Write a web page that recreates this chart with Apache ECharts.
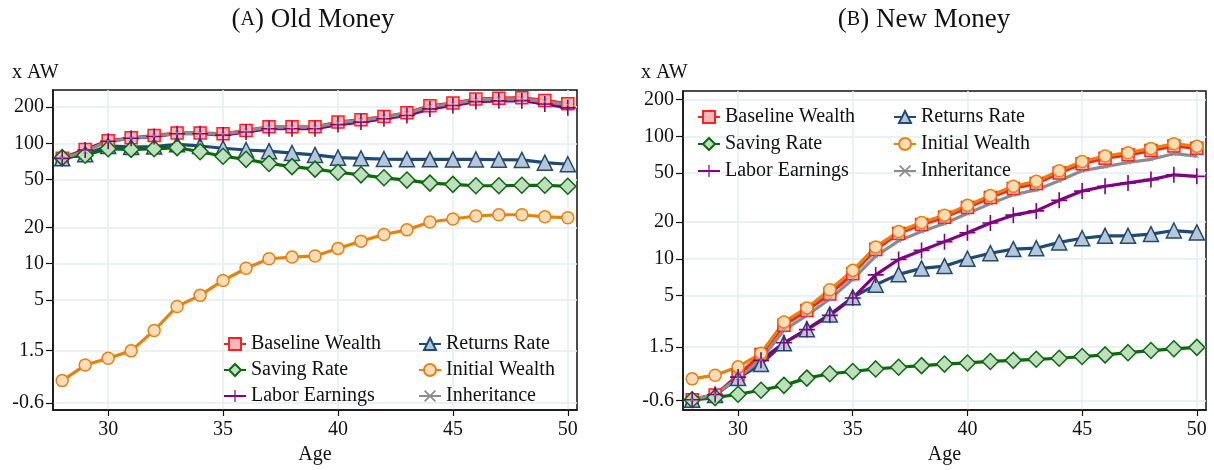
<!DOCTYPE html>
<html>
<head>
<meta charset="utf-8">
<script src="https://cdn.jsdelivr.net/npm/echarts@6/dist/echarts.min.js"></script>
<style>
  html, body { margin: 0; background: #fff; }
  #chart { width: 1214px; height: 470px; }
</style>
</head>
<body>
<div id="chart"></div>
<script>
// ages on the x axis
const ages = [28, 29, 30, 31, 32, 33, 34, 35, 36, 37, 38, 39, 40, 41, 42, 43, 44, 45, 46, 47, 48, 49, 50];

// (A) Old Money, in x AW
const oldBaseline = [75, 89, 105, 111, 116, 122, 122, 120, 128, 137, 137, 137, 150, 157, 167, 179, 205, 216, 233, 237, 239, 227, 213];
const oldReturns  = [75, 81, 95, 93, 94, 98, 95, 91, 88, 86, 83, 80, 76, 75, 74, 73.6, 73.6, 73.5, 73.5, 73, 72.8, 69, 67];
const oldSaving   = [76, 79.5, 90, 89, 90, 92, 85, 78, 73.6, 68, 64, 61, 57.5, 54.7, 51.7, 49.5, 46.7, 45.6, 44.4, 44.4, 44.8, 44.8, 44];
const oldInitial  = [1.07, 1.44, 1.64, 1.89, 2.79, 4.42, 5.46, 7.26, 9.16, 11.0, 11.35, 11.6, 13.4, 15.4, 17.5, 19.1, 22.2, 23.5, 24.9, 25.5, 25.5, 24.5, 24.1];
const oldLabor    = [75, 88, 104, 110, 114, 120, 120, 117, 124, 132, 132, 132, 143, 150, 160, 170, 193, 206, 222, 225, 226, 212, 197];
const oldInherit  = [75, 86, 104, 110, 115, 121, 121, 119, 127, 136, 136, 136, 148, 155, 165, 177, 202, 213, 229, 233, 234, 222, 209];

// (B) New Money, in x AW
const newBaseline = [0.705, 0.77, 1.13, 1.65, 2.86, 3.78, 5.15, 7.55, 11.9, 16.1, 19.0, 21.8, 26.2, 31.6, 37.5, 41.2, 50.2, 59.7, 66.3, 70.6, 76.4, 83.4, 79.7];
const newReturns  = [0.705, 0.77, 1.06, 1.38, 2.04, 2.66, 3.51, 4.84, 6.13, 7.46, 8.34, 8.71, 10.0, 11.1, 12.0, 12.2, 13.6, 14.7, 15.4, 15.4, 15.9, 17.0, 16.4];
const newSaving   = [0.705, 0.735, 0.783, 0.843, 0.925, 1.06, 1.15, 1.2, 1.26, 1.3, 1.34, 1.38, 1.41, 1.45, 1.48, 1.51, 1.54, 1.59, 1.64, 1.71, 1.78, 1.84, 1.89];
const newInitial  = [1.045, 1.12, 1.31, 1.69, 3.05, 3.97, 5.58, 8.04, 12.5, 16.7, 19.8, 22.7, 27.3, 32.9, 39.1, 42.9, 52.3, 62.2, 69.1, 73.5, 79.6, 86.9, 83.0];
const newLabor    = [0.705, 0.78, 1.08, 1.48, 2.06, 2.64, 3.45, 4.78, 7.38, 9.86, 11.7, 13.8, 16.3, 19.6, 22.7, 24.6, 30.0, 35.7, 39.1, 41.6, 44.3, 48.5, 47.1];
const newInherit  = [0.705, 0.78, 1.06, 1.50, 2.61, 3.45, 4.69, 6.79, 10.5, 14.0, 16.7, 19.4, 23.4, 28.2, 33.3, 36.5, 43.4, 52.3, 56.6, 61.1, 64.9, 72.1, 69.0];

// axis ticks (y axis is logarithmic, labels as printed)
const xTicks = [30, 35, 40, 45, 50];
const yTickValues = [0.695, 1.905, 5, 10, 20, 50, 100, 200];
const yTickLabels = ['-0.6', '1.5', '5', '10', '20', '50', '100', '200'];

const FONT = '"Liberation Serif", "Times New Roman", serif';
const log = v => Math.log10(v);
const yTicksLog = yTickValues.map(log);

const styles = {
  'Baseline Wealth': { line: '#FF1F1F', symbol: 'rect', size: 12, fill: '#F9B8B8', border: '#FF1F1F' },
  'Returns Rate':    { line: '#1F4A73', symbol: 'triangle', size: 15, fill: '#B7C7D9', border: '#1F4A73' },
  'Saving Rate':     { line: '#0B6B0B', symbol: 'diamond', size: 16, fill: '#BFDDBF', border: '#0B6B0B' },
  'Initial Wealth':  { line: '#E8820E', symbol: 'circle', size: 12, fill: '#FBDCB8', border: '#E8820E' },
  'Labor Earnings':  { line: '#800080', symbol: 'path://M9,0h2v9h9v2h-9v9h-2v-9h-9v-2h9z', size: 16, fill: '#800080', border: 'transparent' },
  'Inheritance':     { line: '#8C8C8C', symbol: 'path://M0,1l1,-1l4,4l4,-4l1,1l-4,4l4,4l-1,1l-4,-4l-4,4l-1,-1l4,-4z', size: 5, fill: '#8C8C8C', border: 'transparent' }
};

function makeSeries(name, values, idx) {
  const s = styles[name];
  return {
    name: name,
    type: 'line',
    xAxisIndex: idx,
    yAxisIndex: idx,
    data: ages.map((a, i) => [a, log(values[i])]),
    symbol: s.symbol,
    symbolSize: s.size,
    showAllSymbol: true,
    lineStyle: { color: s.line, width: 3.2 },
    itemStyle: { color: s.fill, borderColor: s.border, borderWidth: 1.5 },
    emphasis: { disabled: true },
    animation: false
  };
}

function makeX(idx) {
  return {
    gridIndex: idx, type: 'value', min: 27.6, max: 50.4,
    name: 'Age', nameLocation: 'middle', nameGap: 35,
    nameTextStyle: { fontFamily: FONT, fontSize: 20, color: '#111' },
    axisLine: { show: true, onZero: false, lineStyle: { color: '#111', width: 1.5 } },
    axisTick: { show: true, customValues: xTicks, length: 6, lineStyle: { color: '#111', width: 1.2 } },
    axisLabel: { customValues: xTicks, fontFamily: FONT, fontSize: 20, color: '#111', margin: 10 },
    splitLine: { show: true, lineStyle: { color: '#E4EEF0', width: 1.5 } }
  };
}

function makeY(idx, lo, hi) {
  return {
    gridIndex: idx, type: 'value', min: log(lo), max: log(hi),
    axisLine: { show: true, onZero: false, lineStyle: { color: '#111', width: 1.5 } },
    axisTick: { show: true, customValues: yTicksLog, length: 7, lineStyle: { color: '#111', width: 1.2 } },
    axisLabel: {
      customValues: yTicksLog, fontFamily: FONT, fontSize: 20, color: '#111', margin: 9,
      formatter: v => {
        let best = 0;
        yTicksLog.forEach((t, i) => { if (Math.abs(t - v) < Math.abs(yTicksLog[best] - v)) best = i; });
        return yTickLabels[best];
      }
    },
    splitLine: { show: true, lineStyle: { color: '#E4EEF0', width: 1.5 } }
  };
}

function makeLegend(left, top, names, gap) {
  return {
    left: left, top: top, orient: 'vertical', data: names,
    itemWidth: 22, itemHeight: 15, itemGap: gap,
    selectedMode: false,
    textStyle: { fontFamily: FONT, fontSize: 20, color: '#111', lineHeight: 20 }
  };
}

const col1 = ['Baseline Wealth', 'Saving Rate', 'Labor Earnings'];
const col2 = ['Returns Rate', 'Initial Wealth', 'Inheritance'];

const chart = echarts.init(document.getElementById('chart'), null, { renderer: 'canvas' });

const option = {
  backgroundColor: '#fff',
  animation: false,
  title: [
    { text: '({sc|A}) Old Money', left: 308, top: 1, textAlign: 'center',
      textStyle: { fontFamily: FONT, fontSize: 27, fontWeight: 'normal', color: '#111',
        rich: { sc: { fontFamily: FONT, fontSize: 20, color: '#111' } } } },
    { text: '({sc|B}) New Money', left: 919, top: 1, textAlign: 'center',
      textStyle: { fontFamily: FONT, fontSize: 27, fontWeight: 'normal', color: '#111',
        rich: { sc: { fontFamily: FONT, fontSize: 20, color: '#111' } } } },
    { text: 'x AW', left: 7, top: 58, textStyle: { fontFamily: FONT, fontSize: 20, fontWeight: 'normal', color: '#111' } },
    { text: 'x AW', left: 636, top: 58, textStyle: { fontFamily: FONT, fontSize: 20, fontWeight: 'normal', color: '#111' } }
  ],
  grid: [
    { left: 53, top: 90, width: 524, height: 323, show: true, borderColor: '#111', borderWidth: 1.5, backgroundColor: 'transparent' },
    { left: 683, top: 91, width: 523, height: 323, show: true, borderColor: '#111', borderWidth: 1.5, backgroundColor: 'transparent' }
  ],
  legend: [
    makeLegend(218, 329, col1, 6),
    makeLegend(413, 329, col2, 6),
    makeLegend(692, 102, col1, 7),
    makeLegend(888, 102, col2, 7)
  ],
  xAxis: [makeX(0), makeX(1)],
  yAxis: [makeY(0, 0.61, 277), makeY(1, 0.582, 234.4)],
  series: [
    makeSeries('Baseline Wealth', oldBaseline, 0),
    makeSeries('Returns Rate', oldReturns, 0),
    makeSeries('Saving Rate', oldSaving, 0),
    makeSeries('Initial Wealth', oldInitial, 0),
    makeSeries('Labor Earnings', oldLabor, 0),
    makeSeries('Inheritance', oldInherit, 0),
    makeSeries('Baseline Wealth', newBaseline, 1),
    makeSeries('Returns Rate', newReturns, 1),
    makeSeries('Saving Rate', newSaving, 1),
    makeSeries('Initial Wealth', newInitial, 1),
    makeSeries('Labor Earnings', newLabor, 1),
    makeSeries('Inheritance', newInherit, 1)
  ]
};

chart.setOption(option);

window.addEventListener('resize', () => {
  chart.resize();
});
</script>
</body>
</html>
